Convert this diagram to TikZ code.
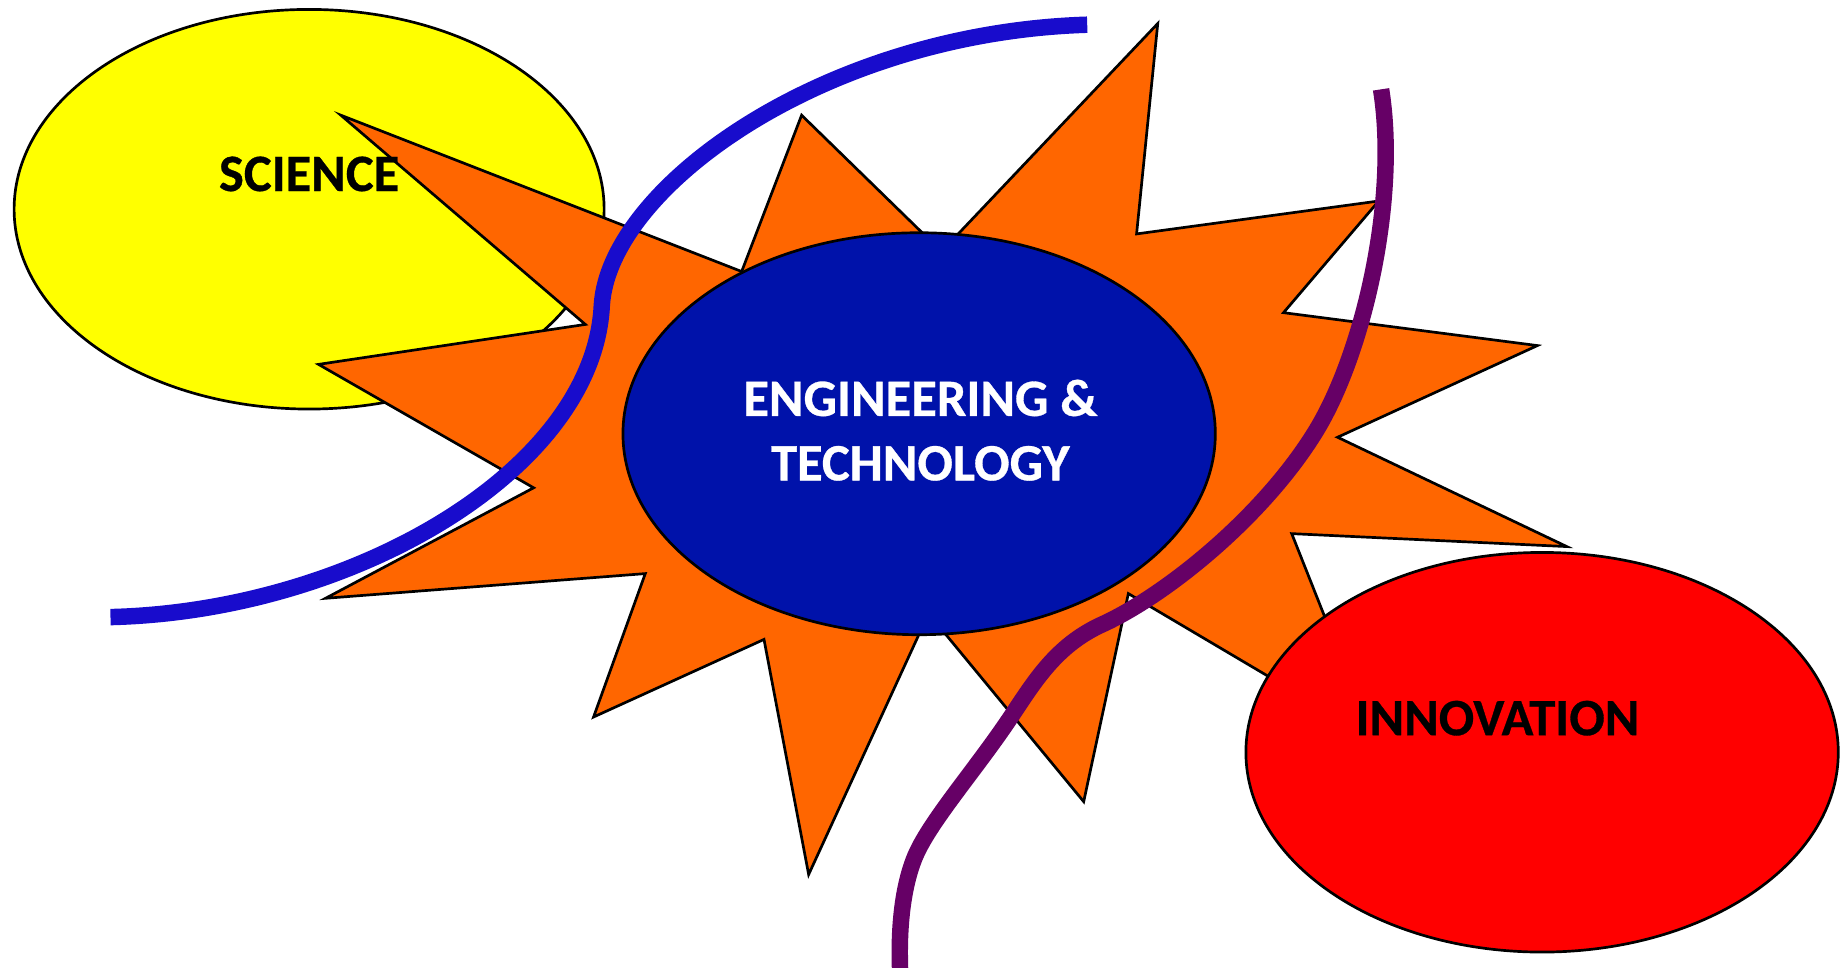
\documentclass[tikz,border=0pt]{standalone}
\usepackage{fontspec}
\setmainfont{Carlito}[BoldFeatures={FakeBold=0.6}]
\begin{document}
\begin{tikzpicture}[x=0.01cm,y=-0.01cm,
  outl/.style={draw=black,line width=0.65pt,line join=miter},
  lbl/.style={font=\bfseries\fontsize{12.7}{15.6}\selectfont,align=center,inner sep=0pt},
  band/.style={line width=0.14cm,line cap=butt}]
\definecolor{sciyellow}{RGB}{255,255,0}
\definecolor{sunorange}{RGB}{255,102,0}
\definecolor{engblue}{RGB}{0,18,170}
\definecolor{innred}{RGB}{255,0,0}
\definecolor{bandblue}{RGB}{24,12,204}
\definecolor{bandpurple}{RGB}{102,0,102}
\clip (0,0) rectangle (1568,823);
\useasboundingbox (0,0) rectangle (1568,823);
% science ellipse
\draw[outl,fill=sciyellow] (263,178) ellipse [x radius=251,y radius=170];
% star
\draw[outl,fill=sunorange] (290,98) -- (631,231) -- (682,98) -- (801,214) -- (985,20) -- (967,199)
  -- (1173,171) -- (1092,266) -- (1308,294) -- (1138,372) -- (1333,465) -- (1099,454)
  -- (1168,628) -- (960,505) -- (922,682) -- (790,522) -- (688,744) -- (650,544)
  -- (505,610) -- (549,488) -- (277,509) -- (454,415) -- (271,310) -- (498,276) -- cycle;
% engineering ellipse
\draw[outl,fill=engblue] (782,369) ellipse [x radius=252,y radius=171];
% innovation ellipse
\draw[outl,fill=innred] (1312,640) ellipse [x radius=252,y radius=170];
% bands
\coordinate (b0) at (94,525);
\coordinate (b1) at (512,260);
\coordinate (b2) at (925,21);
\draw[band,draw=bandblue] (b0) .. controls (300,520) and (505,400) .. (b1)
  .. controls (518,160) and (700,28) .. (b2);
\coordinate (p0) at (1175,76);
\coordinate (p1) at (1120,366);
\coordinate (p2) at (936,532);
\coordinate (p3) at (860,610);
\coordinate (p4) at (778,730);
\coordinate (p5) at (766,830);
\draw[band,draw=bandpurple] (p0) .. controls (1190,170) and (1160,300) .. (p1)
  .. controls (1075,440) and (990,508) .. (p2)
  .. controls (898,550) and (880,580) .. (p3)
  .. controls (830,655) and (790,700) .. (p4)
  .. controls (768,755) and (764,790) .. (p5);
% labels
\node[lbl,text=black] (sci) at (263,148) {SCIENCE};
\node[lbl,text=white] (eng) at (783,366) {ENGINEERING \&\\TECHNOLOGY};
\node[lbl,text=black] (inn) at (1274,611) {INNOVATION};
\end{tikzpicture}
\end{document}
